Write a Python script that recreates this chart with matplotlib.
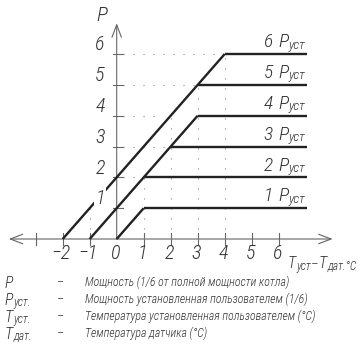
import matplotlib
matplotlib.use("Agg")
import matplotlib.pyplot as plt
from matplotlib.patches import FancyArrowPatch
from matplotlib import font_manager

# ---- font choice: a narrow italic face ----
_fam = {f.name for f in font_manager.fontManager.ttflist}
if 'Liberation Sans Narrow' in _fam:
    FAM, STRETCH = 'Liberation Sans Narrow', 'normal'
elif 'Roboto Condensed' in _fam:
    FAM, STRETCH = 'Roboto Condensed', 'normal'
else:
    FAM, STRETCH = 'DejaVu Sans', 'condensed'
FONT = [FAM, 'DejaVu Sans']
WEIGHT = 'light'

# ---- data ----
x_ticks = [-3, -2, -1, 0, 1, 2, 3, 4, 5, 6]
x_tick_labels = ['', '−2', '−1', '0', '1', '2', '3', '4', '5', '6']
y_ticks = [1, 2, 3, 4, 5, 6]
y_tick_labels = ['1', '2', '3', '4', '5', '6']

ramp_x0 = [0, -1, -2]          # x where each diagonal starts (P = 0)
ramp_x1 = [1, 3, 4]            # x where each diagonal ends
levels = [1, 2, 3, 4, 5, 6]    # P levels (in 1/6 of boiler power)
level_start = [1, 1, 2, 3, 3, 4]
level_end = 7.05
level_nums = ['1', '2', '3', '4', '5', '6']

vguide_x = [-1, 1, 2, 3, 4]
vguide_top = [1, 2, 4, 5, 6]
hguide_y = [2, 3, 4, 5, 6]
hguide_end = [1, 2, 1.6, 3, 4]

legend_keys = [('P', ''), ('P', 'уст.'), ('T', 'уст.'), ('T', 'дат.')]
legend_desc = ['Мощность (1/6 от полной мощности котла)',
               'Мощность установленная пользователем (1/6)',
               'Температура установленная пользователем (°C)',
               'Температура датчика (°C)']

# ---- figure ----
fig = plt.figure(figsize=(3.6, 3.56), dpi=100)
ax = fig.add_axes([0, 0, 1, 1])
ax.set_xlim(-116.7 / 27, (360 - 116.7) / 27)
ax.set_ylim((239 - 356) / 30.83, 239 / 30.83)
ax.axis('off')
renderer = fig.canvas.get_renderer()

TXT = '#333333'
AX = '#666666'


def txt(x, y, s, size, **kw):
    return ax.text(x, y, s, fontsize=size, color=TXT, family=FONT, weight=WEIGHT,
                   style='italic', fontstretch=STRETCH, **kw)


def rich(x, y, parts, ha='left'):
    """parts: list of (text, fontsize, dy_points). Baseline-aligned at (x, y)."""
    arts = []
    off = 0.0
    for s, size, dy in parts:
        a = ax.annotate(s, (x, y), xytext=(off, dy), textcoords='offset points',
                        ha='left', va='baseline', fontsize=size, color=TXT,
                        family=FONT, weight=WEIGHT, style='italic',
                        fontstretch=STRETCH)
        w = a.get_window_extent(renderer).width * 72 / fig.dpi
        off += w + 0.3
        arts.append(a)
    if ha == 'right':
        for a in arts:
            ox, oy = a.xyann
            a.xyann = (ox - off, oy)
    return arts


def arrow(p0, p1):
    a = FancyArrowPatch(p0, p1, arrowstyle='->,head_length=0.45,head_width=0.17',
                        mutation_scale=20, color=AX, lw=0.8, shrinkA=0, shrinkB=0)
    ax.add_patch(a)


arrow((0, 0), (-4.0, 0))
arrow((0, 0), (8.0, 0))
arrow((0, 0), (0, 7.0))

# ticks
for xt in x_ticks:
    if xt != 0:
        ax.plot([xt, xt], [-0.2, 0.2], color=AX, lw=0.8)
for yt in y_ticks:
    ax.plot([-0.15, 0.22], [yt, yt], color=AX, lw=0.8)

# dotted guides
for x, top in zip(vguide_x, vguide_top):
    ax.plot([x, x], [0, top], color='#888888', lw=0.8, ls=(0, (1, 8)))
for y, xe in zip(hguide_y, hguide_end):
    ax.plot([0.25, xe], [y, y], color='#888888', lw=0.8, ls=(0, (1, 8)))

# diagonals
for x0, x1 in zip(ramp_x0, ramp_x1):
    ax.plot([x0, x1], [0, x1 - x0], color='#222222', lw=1.7, solid_capstyle='butt')
# horizontal levels and their labels
for lv, xs, num in zip(levels, level_start, level_nums):
    ax.plot([xs, level_end], [lv, lv], color='#222222', lw=1.7, solid_capstyle='butt')
    rich(7.0, lv + 0.22, [(num + ' ', 14, 0), ('P', 14, 0), ('уст', 9.5, -1.0)],
         ha='right')

# tick labels
for xt, lab in zip(x_ticks, x_tick_labels):
    if lab:
        txt(xt - 0.05, -0.47, lab, 14.5, ha='center', va='center')
for yt, lab in zip(y_ticks, y_tick_labels):
    txt(-0.62, yt + 0.3, lab, 14.5, ha='center', va='center',
        bbox=dict(boxstyle='square,pad=0.05', fc='white', ec='none'), zorder=5)

# axis labels
txt(-0.55, 7.25, 'P', 15, ha='center', va='center')
rich(6.33, -0.95, [('T', 11.5, 0), ('уст', 8.5, -1), ('–', 9.5, 0), ('T', 11.5, 0),
                   ('дат.°C', 8.5, -1)])

# legend
rows_base = [288, 305, 322, 339]
for rb, (k, sub), d in zip(rows_base, legend_keys, legend_desc):
    yb = (239 - rb) / 30.83
    parts = [(k, 11.5, 0)]
    if sub:
        parts.append((sub, 8.5, -0.5))
    rich((5 - 116.7) / 27, yb, parts)
    txt((57 - 116.7) / 27, yb + 0.05, '–', 9, ha='left', va='baseline')
    txt((85 - 116.7) / 27, yb + 0.05, d, 8.6, ha='left', va='baseline')

fig.savefig('out.png', dpi=100)
